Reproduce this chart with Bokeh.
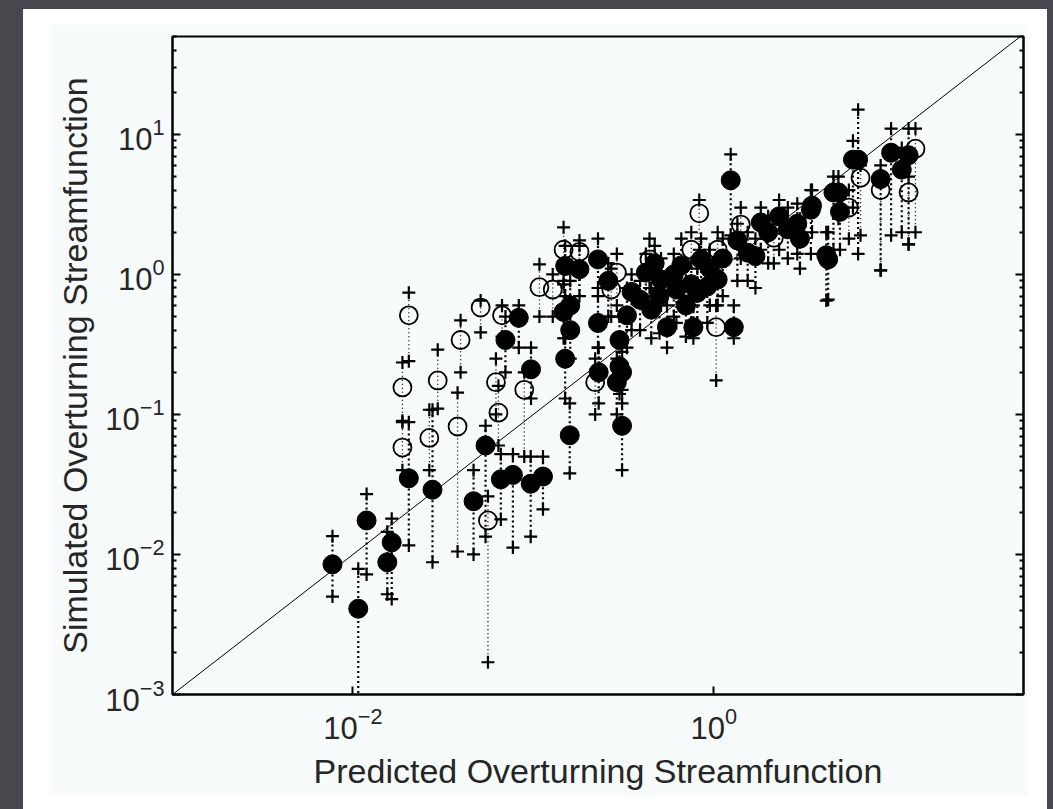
import numpy as np
from bokeh.plotting import figure
from bokeh.layouts import column
from bokeh.models import FixedTicker, LogAxis, CustomJSTickFormatter
from bokeh.embed import file_html
from bokeh.resources import INLINE

# ---------------- data ----------------
# filled circles: predicted, simulated, lower "+" , upper "+"
filled_x  = [0.0077, 0.0119, 0.0107, 0.0164, 0.0155, 0.0204, 0.0276, 0.0543, 0.0466, 0.066,
             0.077, 0.0966, 0.113, 0.083, 0.07, 0.097, 0.147, 0.159, 1.24, 0.77,
             1.29, 0.31, 0.30, 4.3, 5.9, 6.3, 9.6, 12.0, 8.4, 11.0,
             4.2, 3.45, 4.6, 0.228, 0.18, 0.16, 0.228, 0.39, 0.51, 0.66,
             0.85, 1.05, 0.81, 1.54, 1.82, 2.57, 3.5, 4.9, 0.33, 0.30, 0.16,
             0.15, 0.15, 0.23, 0.31, 0.45, 0.42, 0.6, 0.75, 0.95, 1.7,
             2.0, 2.9, 3.0, 5.0, 0.55, 0.29,
             0.35, 0.5, 0.7, 0.92, 1.12, 1.35, 0.26, 0.47, 2.3, 0.62]
filled_y  = [0.0085, 0.0175, 0.0041, 0.0122, 0.0088, 0.035, 0.029, 0.06, 0.024, 0.0344,
             0.037, 0.032, 0.036, 0.49, 0.34, 0.21, 0.54, 0.071, 4.7, 0.42,
             0.42, 0.083, 0.22, 1.28, 6.6, 6.6, 7.4, 7.1, 4.8, 5.6,
             1.37, 2.9, 3.85, 1.28, 1.09, 0.6, 0.45, 0.66, 0.92, 1.16,
             1.28, 0.92, 0.74, 1.43, 2.35, 2.1, 3.1, 3.85, 0.51, 0.34, 0.4,
             1.15, 0.25, 0.2, 0.2, 0.56, 1.03, 1.0, 0.85, 1.1, 1.35,
             2.0, 2.3, 1.8, 2.8, 0.42, 0.17,
             0.75, 0.7, 0.6, 0.82, 1.3, 1.75, 0.9, 1.2, 2.6, 0.78]
filled_lo = [0.005, 0.0072, 0.0008, 0.0048, 0.0052, 0.0116, 0.0088, 0.0134, 0.01, 0.0178,
             0.0112, 0.0134, 0.021, 0.3, 0.2, 0.13, 0.35, 0.038, 1.9, 0.35,
             0.35, 0.04, 0.14, 0.66, 3.0, 1.4, 1.9, 1.64, 1.07, 2.0,
             0.65, 1.4, 1.5, 0.8, 0.7, 0.4, 0.3, 0.4, 0.6, 0.7,
             0.8, 0.6, 0.45, 0.9, 1.5, 1.3, 2.0, 2.5, 0.3, 0.2, 0.25,
             0.7, 0.13, 0.12, 0.12, 0.35, 0.6, 0.5, 0.45, 0.6, 0.8,
             1.2, 1.4, 1.1, 1.5, 0.3, 0.1,
             0.4, 0.38, 0.36, 0.45, 0.7, 0.9, 0.5, 0.7, 1.5, 0.45]
filled_hi = [0.0135, 0.027, 0.0079, 0.018, 0.0145, 0.088, 0.108, 0.083, 0.04, 0.052,
             0.052, 0.05, 0.05, 0.6, 0.5, 0.3, 0.85, 0.12, 7.2, 0.6,
             0.6, 0.15, 0.35, 2.0, 9.0, 15.0, 11.0, 11.0, 6.0, 8.0,
             2.0, 4.0, 5.0, 1.8, 1.6, 0.9, 0.7, 0.9, 1.3, 1.8,
             1.8, 1.3, 1.1, 2.0, 3.0, 3.0, 4.0, 5.0, 0.8, 0.5, 0.6,
             1.6, 0.35, 0.3, 0.28, 0.8, 1.4, 1.4, 1.2, 1.5, 1.8,
             2.6, 3.2, 2.5, 3.8, 0.6, 0.25,
             1.0, 1.0, 0.9, 1.1, 1.8, 2.3, 1.2, 1.6, 3.4, 1.1]

# open circles
open_x  = [0.0188, 0.0188, 0.0204, 0.0265, 0.0295, 0.0395, 0.038, 0.056, 0.051, 0.067,
           0.062, 0.064, 0.089, 0.147, 0.108, 0.128, 0.22, 0.83, 1.03, 6.5,
           13.1, 8.4, 12.0, 0.27, 0.29, 0.44, 0.75, 1.05, 1.41, 5.6, 2.15, 0.18]
open_y  = [0.058, 0.156, 0.51, 0.068, 0.175, 0.34, 0.082, 0.0175, 0.58, 0.51,
           0.17, 0.103, 0.15, 1.5, 0.81, 0.78, 0.17, 2.73, 0.42, 4.9,
           7.9, 4.0, 3.85, 0.78, 1.03, 1.28, 1.5, 1.5, 2.27, 3.0, 1.83, 1.45]
open_lo = [0.04, 0.09, 0.24, 0.04, 0.11, 0.2, 0.0105, 0.0017, 0.385, 0.36,
           0.1, 0.06, 0.05, 0.9, 0.5, 0.5, 0.1, 1.5, 0.175, 1.9,
           2.0, 1.07, 1.64, 0.5, 0.6, 0.8, 0.9, 0.9, 1.3, 1.8, 1.2, 1.0]
open_hi = [0.088, 0.235, 0.74, 0.108, 0.29, 0.47, 0.143, 0.026, 0.65, 0.6,
           0.25, 0.16, 0.2, 2.17, 1.18, 1.0, 0.25, 3.4, 0.6, 6.0,
           11.0, 5.0, 5.0, 1.1, 1.4, 1.8, 2.0, 2.0, 3.0, 4.0, 2.5, 1.75]

one_to_one = [1e-3, 52.0]

y_major = [1e-3, 1e-2, 1e-1, 1e0, 1e1]
x_major = [1e-2, 1e0]

# ---------------- figure ----------------
PALE = "#f8fbfb"
TXT = "#262626"

p = figure(width=978, height=772, x_axis_type="log", y_axis_type="log",
           x_range=(1e-3, 52), y_range=(1e-3, 50),
           output_backend="svg", toolbar_location=None,
           background_fill_color=PALE, border_fill_color=PALE,
           min_border_left=122, min_border_top=12, min_border_right=5,
           min_border_bottom=102)
p.grid.visible = False
p.outline_line_color = "black"
p.outline_line_width = 2

y_minor = [m * 10.0 ** e for e in range(-3, 2) for m in range(2, 10) if m * 10.0 ** e <= 50]
p.yaxis.ticker = FixedTicker(ticks=y_major, minor_ticks=y_minor)
p.xaxis.ticker = FixedTicker(ticks=x_major, minor_ticks=[])

for ax in (p.xaxis[0], p.yaxis[0]):
    ax.axis_line_color = "black"
    ax.axis_line_width = 2
    ax.major_tick_in = 8
    ax.major_tick_out = 0
    ax.minor_tick_in = 4
    ax.minor_tick_out = 0
    ax.major_tick_line_width = 2
    ax.minor_tick_line_width = 2
    ax.major_label_text_font = "Liberation Sans"
    ax.major_label_text_font_size = "31px"
    ax.major_label_text_color = TXT
    ax.axis_label_text_font = "Liberation Sans"
    ax.axis_label_text_font_size = "34px"
    ax.axis_label_text_font_style = "normal"
    ax.axis_label_text_color = TXT

p.xaxis.axis_label = "Predicted Overturning Streamfunction"
p.yaxis.axis_label = "Simulated Overturning Streamfunction"
p.xaxis.major_label_standoff = 12
p.yaxis.major_label_standoff = 8
p.xaxis.axis_label_standoff = 10
p.yaxis.axis_label_standoff = 8

right = LogAxis(ticker=FixedTicker(ticks=y_major, minor_ticks=y_minor),
                formatter=CustomJSTickFormatter(code="return '';"),
                major_tick_in=8, major_tick_out=0, minor_tick_in=4, minor_tick_out=0,
                major_tick_line_width=2, minor_tick_line_width=2,
                axis_line_width=2, major_label_standoff=0)
p.add_layout(right, "right")

# 1:1 line
p.line(one_to_one, one_to_one, line_color="black", line_width=1)

# vertical dotted ranges
p.segment(x0=open_x, y0=open_lo, x1=open_x, y1=open_hi,
          line_color="black", line_width=1.3, line_dash="1 3")
p.segment(x0=filled_x, y0=filled_lo, x1=filled_x, y1=filled_hi,
          line_color="black", line_width=2.2, line_dash="2 3")

# plus markers
px = open_x + open_x + filled_x + filled_x
py = open_lo + open_hi + filled_lo + filled_hi
p.scatter(px, py, marker="cross", size=13, line_color="black", line_width=2.2)

# open circles
p.scatter(open_x, open_y, marker="circle", size=18, fill_alpha=0,
          line_color="black", line_width=1.8)
# filled circles
p.scatter(filled_x, filled_y, marker="circle", size=19, fill_color="black",
          line_color="black", line_width=1)

inner = column(p, styles={"background-color": "#ffffff", "padding": "15px 19px 13px 27px"})
outer = column(inner, styles={"background-color": "#47484d", "padding": "9px 6px 0px 23px",
                              "width": "1053px", "height": "809px", "box-sizing": "border-box"})

open("out.html", "w").write(file_html(outer, INLINE))
